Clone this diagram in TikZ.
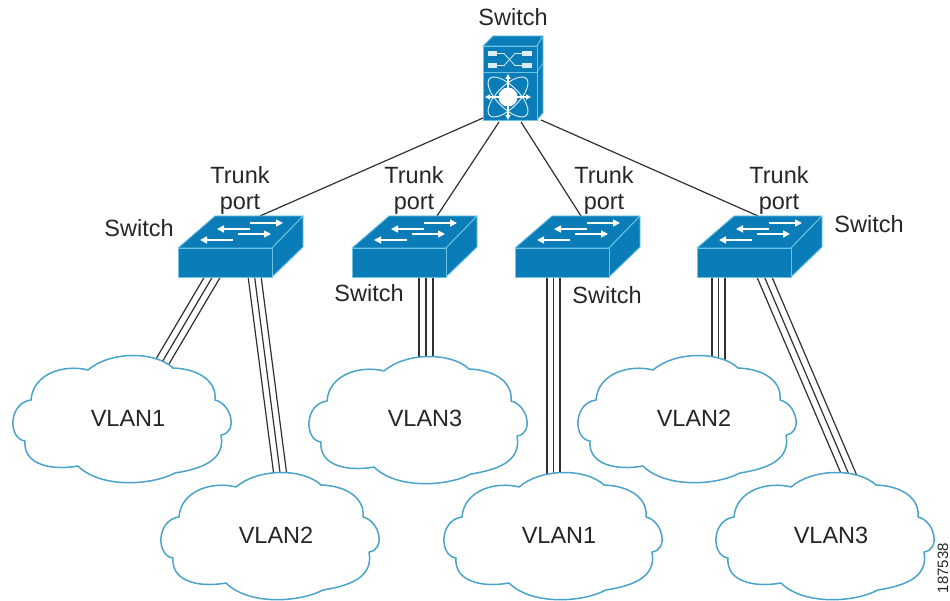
\documentclass[tikz,border=0pt]{standalone}
\usepackage{fontspec}
\setmainfont{Liberation Sans}
\usetikzlibrary{arrows.meta}
\definecolor{ciscoblue}{HTML}{0A7DB9}
\definecolor{edgeblue}{HTML}{6CC3E3}
\definecolor{cloudline}{HTML}{4BA3C9}
\definecolor{linkgray}{HTML}{303030}
\tikzset{
  lbl/.style={font=\fontsize{23.5}{26}\selectfont, text=black!85, inner sep=0pt, align=center},
  tag/.style={font=\fontsize{15}{17}\selectfont, text=black!85, inner sep=0pt, rotate=90},
  link/.style={draw=linkgray, line width=1.2pt},
  trunkline/.style={draw=linkgray, line width=1.2pt},
  face/.style={fill=ciscoblue, draw=edgeblue, line width=0.9pt, line join=round},
  whitearrow/.style={draw=white, line width=1.5pt, -{Triangle[length=7pt,width=7pt]}},
  whitedouble/.style={draw=white, line width=1.2pt, {Triangle[length=5pt,width=5pt]}-{Triangle[length=5pt,width=5pt]}},
  cloudy/.pic={
    \draw[cloudline, fill=white, line width=1.5pt, line join=round]
      (-89,-19) .. controls (-87,-46) and (-55,-55) .. (-32,-49)
      .. controls (-10,-68) and (35,-68) .. (53,-51)
      .. controls (80,-50) and (97,-37) .. (95,-19)
      .. controls (112,-15) and (118,14) .. (101,16)
      .. controls (106,42) and (80,50) .. (55,54)
      .. controls (30,67) and (-20,69) .. (-42,47)
      .. controls (-70,52) and (-97,45) .. (-95,22)
      .. controls (-112,20) and (-112,-16) .. (-89,-19) -- cycle;
  },
  flatswitch/.pic={
    \path[face] (0,0) -- (37,-32) -- (125,-32) -- (94,0) -- cycle;
    \path[face] (94,0) -- (125,-32) -- (125,-1) -- (94,29) -- cycle;
    \path[face] (0,0) rectangle (94,29);
    \draw[whitearrow] (72,-25) -- (105,-25);
    \draw[whitearrow] (72,-19) -- (39,-19);
    \draw[whitearrow] (60,-14) -- (93,-14);
    \draw[whitearrow] (55,-8) -- (22,-8);
  },
  coreswitch/.pic={
    % origin at front top-left corner (483,46)
    \path[face] (0,0) -- (10,-10) -- (60,-10) -- (54,0) -- cycle;
    \path[face] (54,0) -- (60,-10) -- (60,67) -- (54,74) -- cycle;
    \path[face] (0,0) rectangle (54,26);
    \path[face] (0,26) rectangle (54,74);
    \draw[edgeblue, line width=0.8pt] (54,26) -- (60,17);
    % upper section: crossed paths
    \fill[white!85!ciscoblue] (5,5) rectangle (14,10);
    \fill[white!85!ciscoblue] (5,17) rectangle (14,22);
    \fill[white!85!ciscoblue] (39,5) rectangle (49,10);
    \fill[white!85!ciscoblue] (39,17) rectangle (49,22);
    \draw[white!85!ciscoblue, line width=0.8pt] (14,7.5) -- (21,7.5) -- (32,19.5) -- (39,19.5);
    \draw[white!85!ciscoblue, line width=0.8pt] (14,19.5) -- (21,19.5) -- (32,7.5) -- (39,7.5);
    % lower section: hub
    \begin{scope}[shift={(25,51)}]
      \draw[white!90!ciscoblue, line width=0.9pt, rotate=45] (0,0) ellipse (26 and 11);
      \draw[white!90!ciscoblue, line width=0.9pt, rotate=-45] (0,0) ellipse (26 and 11);
      \draw[whitedouble] (-23,0) -- (23,0);
      \draw[whitedouble] (0,-23) -- (0,23);
      \fill[white] (0,0) circle (9.5);
    \end{scope}
  }
}
\begin{document}
\begin{tikzpicture}[x=1pt,y=-1pt]
\useasboundingbox (0,0) rectangle (950,601);
% anchors of devices
\coordinate (core) at (483,46);
\coordinate (swa) at (178,248);
\coordinate (swb) at (352,248);
\coordinate (swc) at (515,248);
\coordinate (swd) at (697,248);
\coordinate (cla) at (120,419);
\coordinate (clb) at (268,536);
\coordinate (clc) at (416,420);
\coordinate (cld) at (551,536);
\coordinate (cle) at (685,419);
\coordinate (clf) at (823,536);
% connector ends
\coordinate (core1) at (483,118);
\coordinate (core2) at (499,122);
\coordinate (core3) at (521,122);
\coordinate (core4) at (541,120);
\coordinate (upa) at (260,216);
\coordinate (upb) at (437,216);
\coordinate (upc) at (581,216);
\coordinate (upd) at (758,216);
\coordinate (aout1) at (213,276);
\coordinate (ain1) at (161,364);
\coordinate (aout2) at (254.5,276);
\coordinate (bin) at (281,480);
\coordinate (bout) at (426,276);
\coordinate (cin) at (426,365);
\coordinate (cout) at (553.5,276);
\coordinate (din) at (553.5,482);
\coordinate (dout1) at (718.5,276);
\coordinate (ein) at (718.5,365);
\coordinate (dout2) at (764,276);
\coordinate (fin) at (853,484);
% uplinks
\draw[link] (core1) -- (upa);
\draw[link] (core2) -- (upb);
\draw[link] (core3) -- (upc);
\draw[link] (core4) -- (upd);
% triple links
\foreach \s/\f/\t in {-8/aout1/ain1,0/aout1/ain1,8/aout1/ain1,
                      -6.5/aout2/bin,0/aout2/bin,6.5/aout2/bin,
                      -7/bout/cin,0/bout/cin,7/bout/cin,
                      -6.5/cout/din,0/cout/din,6.5/cout/din,
                      -6.5/dout1/ein,0/dout1/ein,6.5/dout1/ein,
                      -7.5/dout2/fin,0/dout2/fin,7.5/dout2/fin}{
  \draw[trunkline] ([xshift=\s pt]\f) -- ([xshift=\s pt]\t);
}
% devices
\pic at (core) {coreswitch};
\pic at (swa) {flatswitch};
\pic at (swb) {flatswitch};
\pic at (swc) {flatswitch};
\pic at (swd) {flatswitch};
\pic at (cla) {cloudy};
\pic at (clb) {cloudy};
\pic at (clc) {cloudy};
\pic at (cld) {cloudy};
\pic at (cle) {cloudy};
\pic at (clf) {cloudy};
% labels
\node[lbl] (t0) at (513,17) {Switch};
\node[lbl] (t1) at (240,190) {Trunk\\port};
\node[lbl] (t2) at (414,190) {Trunk\\port};
\node[lbl] (t3) at (604,190) {Trunk\\port};
\node[lbl] (t4) at (779,190) {Trunk\\port};
\node[lbl] (s1) at (139,228) {Switch};
\node[lbl] (s2) at (369,293) {Switch};
\node[lbl] (s3) at (607,295) {Switch};
\node[lbl] (s4) at (869,224) {Switch};
\node[lbl] (v1) at (128,418) {VLAN1};
\node[lbl] (v2) at (276,535) {VLAN2};
\node[lbl] (v3) at (425,418) {VLAN3};
\node[lbl] (v4) at (559,535) {VLAN1};
\node[lbl] (v5) at (694,418) {VLAN2};
\node[lbl] (v6) at (831,535) {VLAN3};
\node[tag] (id) at (943,568) {187538};
\end{tikzpicture}
\end{document}
